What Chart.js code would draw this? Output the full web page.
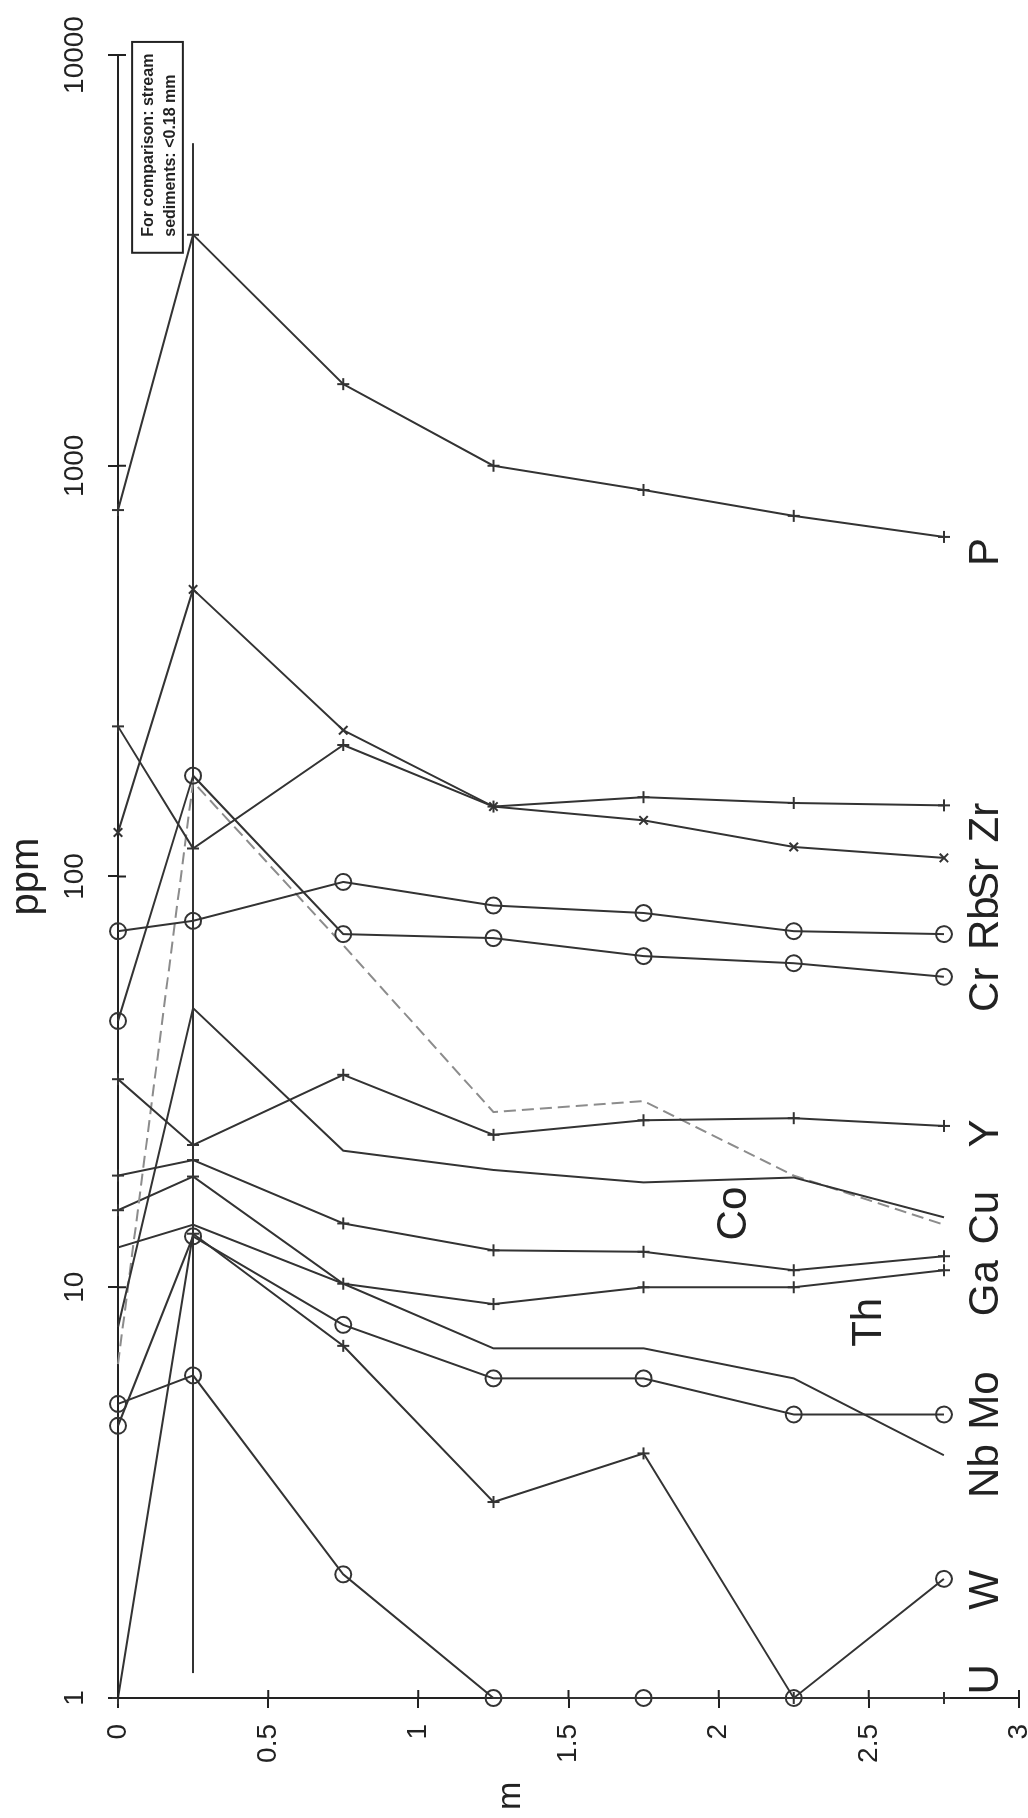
<!DOCTYPE html>
<html>
<head>
<meta charset="utf-8">
<script src="https://cdn.jsdelivr.net/npm/chart.js@4.4.1/dist/chart.umd.min.js"></script>
<style>
  html, body { margin: 0; padding: 0; background: #fff; overflow: hidden; width: 1028px; height: 1818px; }
  /* chart is drawn "landscape" and turned a quarter turn, like the scanned page */
  #wrap { position: absolute; left: 0; top: 0; width: 1818px; height: 1060px;
          transform-origin: 0 0; transform: translate(0, 1818px) rotate(-90deg); }
</style>
</head>
<body>
<div id="wrap"><canvas id="chart" width="1818" height="1060"></canvas></div>
<script>
const FONT = "'Liberation Sans', Arial, sans-serif";

// depth of each sample, m
const depths = [0, 0.25, 0.75, 1.25, 1.75, 2.25, 2.75];
const ppmTicks = [1, 10, 100, 1000, 10000];
const mTicks = [0, 0.5, 1, 1.5, 2, 2.5, 3];

// concentrations, ppm (one value per depth)
const P  = [780, 3650, 1580, 1000, 873, 755, 671];
const Zr = [232, 117, 209, 148, 156, 151, 149];
const Sr = [128, 500, 227, 148, 137, 118, 111];
const Rb = [73.6, 78, 97, 85, 81.5, 73.6, 72.4];
const Cr = [44.5, 176, 72.4, 70.8, 64, 61.5, 57];
const Y  = [32.1, 22.2, 32.9, 23.5, 25.5, 25.8, 24.7];
const Co = [8, 47.8, 21.5, 19.3, 18.0, 18.5, 14.8];
const Cu = [6.5, 170, 68, 26.7, 28.4, 18.7, 14.2];
const Ga = [18.7, 20.4, 14.3, 12.3, 12.2, 11.0, 11.9];
const Th = [15.4, 18.6, 10.2, 9.1, 10.0, 10.0, 11.0];
const Mo = [4.6, 13.3, 8.1, 6.0, 6.0, 4.9, 4.9];
const Nb = [12.5, 14.2, 10.2, 7.1, 7.1, 6.0, 3.9];
const W  = [5.2, 6.1, 2.0, 1, 1, 1, 1.95];
const U  = [1, 13.5, 7.2, 3.0, 3.94, 1, 1];

// vertical reference line at 0.25 m
const refPpm = [1.15, 6100];
const refDepth = 0.25;

const elements = ['P', 'Zr', 'Sr', 'Rb', 'Cr', 'Y', 'Co', 'Cu', 'Ga', 'Th', 'Mo', 'Nb', 'W', 'U'];
const series = [P, Zr, Sr, Rb, Cr, Y, Co, Cu, Ga, Th, Mo, Nb, W, U];
// where each element name sits (ppm, m)
const labelPpm   = [570, 121, 87.7, 66.2, 46.8, 21.9, 13.0, 12.7, 8.5, 7.16, 4.5, 3.07, 1.64, 1.02];
const labelDepth = [2.93, 2.93, 2.93, 2.93, 2.93, 2.93, 2.09, 2.93, 2.93, 2.54, 2.93, 2.93, 2.93, 2.93];

const markers = { P: 'cross', Zr: 'cross', Sr: 'crossRot', Rb: 'circle', Cr: 'circle', Y: 'cross',
                  Ga: 'cross', Th: 'cross', Mo: 'circle', W: 'circle', U: 'cross' };

const datasets = elements.map((el, i) => {
  const m = markers[el];
  return {
    label: el,
    data: depths.map((d, j) => ({ x: series[i][j], y: d })),
    showLine: true,
    borderColor: el === 'Cu' ? '#8c8c8c' : '#333',
    borderDash: el === 'Cu' ? [12, 6] : [],
    borderWidth: 2,
    pointStyle: m || 'circle',
    pointRadius: m ? (m === 'circle' ? 8 : 6) : 0,
    pointBorderColor: '#333',
    pointBackgroundColor: 'rgba(255,255,255,0)',
    pointBorderWidth: 2,
    clip: false
  };
});

datasets.push({
  label: 'ref',
  data: refPpm.map(v => ({ x: v, y: refDepth })),
  showLine: true,
  borderColor: '#333',
  borderWidth: 2,
  pointRadius: 0,
  clip: false
});

// names of the elements, the depth title, inner tick halves and the note box
const annotations = {
  id: 'annotations',
  afterDatasetsDraw(chart) {
    const { ctx, scales: { x, y } } = chart;
    ctx.save();

    // ticks cross the axis lines
    ctx.strokeStyle = '#222';
    ctx.lineWidth = 2;
    ctx.beginPath();
    ppmTicks.forEach(v => {
      const px = x.getPixelForValue(v);
      ctx.moveTo(px, x.bottom);
      ctx.lineTo(px, x.bottom + 8);
    });
    mTicks.forEach(v => {
      const py = y.getPixelForValue(v);
      ctx.moveTo(y.right, py);
      ctx.lineTo(y.right + 8, py);
    });
    ctx.stroke();

    ctx.fillStyle = '#222';
    ctx.textAlign = 'left';
    ctx.textBaseline = 'alphabetic';
    ctx.font = '42px ' + FONT;
    elements.forEach((el, i) => {
      ctx.fillText(el, x.getPixelForValue(labelPpm[i]), y.getPixelForValue(labelDepth[i]));
    });

    ctx.font = '34px ' + FONT;
    ctx.fillText('m', 8, y.getPixelForValue(1.34));

    const bx0 = x.getPixelForValue(3300), bx1 = x.getPixelForValue(10760);
    const by0 = y.getPixelForValue(0.047), by1 = y.getPixelForValue(0.216);
    ctx.fillStyle = '#fff';
    ctx.fillRect(bx0, by0, bx1 - bx0, by1 - by0);
    ctx.strokeRect(bx0, by0, bx1 - bx0, by1 - by0);
    ctx.fillStyle = '#222';
    ctx.font = 'bold 16px ' + FONT;
    ctx.fillText('For comparison: stream', bx0 + 16, by0 + 21);
    ctx.fillText('sediments: <0.18 mm', bx0 + 16, by0 + 43);
    ctx.restore();
  }
};

new Chart(document.getElementById('chart'), {
  type: 'scatter',
  data: { datasets },
  plugins: [annotations],
  options: {
    responsive: false,
    animation: false,
    layout: { padding: { left: 0, top: 0, right: 55, bottom: 41 } },
    plugins: { legend: { display: false }, tooltip: { enabled: false } },
    scales: {
      x: {
        type: 'logarithmic',
        position: 'top',
        min: 1,
        max: 10000,
        afterBuildTicks: s => { s.ticks = ppmTicks.map(v => ({ value: v })); },
        afterFit: s => { s.height = 118; },
        ticks: { callback: v => String(v), font: { size: 28, family: FONT }, color: '#222',
                 padding: 16, maxRotation: 0, autoSkip: false },
        grid: { drawOnChartArea: false, drawTicks: true, tickLength: 10, color: '#222', lineWidth: 2 },
        border: { display: true, color: '#222', width: 2 },
        title: { display: true, text: 'ppm', font: { size: 40, family: FONT }, color: '#222',
                 padding: { top: 3, bottom: 0 } }
      },
      y: {
        type: 'linear',
        position: 'left',
        min: 0,
        max: 3,
        reverse: true,
        afterBuildTicks: s => { s.ticks = mTicks.map(v => ({ value: v })); },
        afterFit: s => { s.width = 120; },
        ticks: { callback: v => String(v), font: { size: 28, family: FONT }, color: '#222',
                 padding: 16, autoSkip: false },
        grid: { drawOnChartArea: false, drawTicks: true, tickLength: 10, color: '#222', lineWidth: 2 },
        border: { display: true, color: '#222', width: 2 }
      }
    }
  }
});
</script>
</body>
</html>
